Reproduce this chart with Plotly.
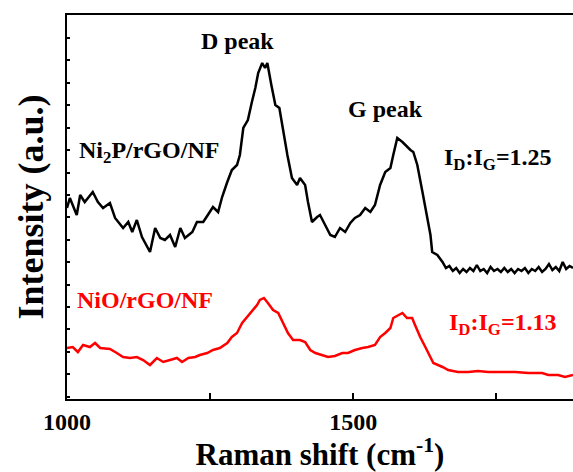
import plotly.graph_objects as go

# Raman shift (cm^-1) and intensity (a.u.)
ni2p_x = [1000, 1005, 1017, 1023, 1031, 1045, 1054, 1063, 1075, 1084, 1098, 1107, 1114, 1122, 1131,
          1145, 1154, 1163, 1171, 1180, 1189, 1198, 1206, 1219, 1227, 1238, 1246, 1255, 1264, 1271,
          1280, 1288, 1297, 1302, 1308, 1316, 1323, 1329, 1334, 1341, 1346, 1350, 1357, 1364, 1371,
          1378, 1385, 1393, 1402, 1407, 1416, 1421, 1428, 1437, 1442, 1451, 1460, 1468, 1477, 1486,
          1495, 1503, 1512, 1521, 1530, 1538, 1547, 1556, 1565, 1570, 1577, 1586, 1591, 1600, 1605,
          1612, 1621, 1629, 1635, 1638, 1647, 1656, 1662, 1668, 1674, 1680, 1686, 1692, 1698, 1704,
          1710, 1716, 1722, 1728, 1734, 1740, 1746, 1752, 1758, 1764, 1770, 1776, 1782, 1788, 1794,
          1800, 1806, 1812, 1818, 1824, 1830, 1836, 1842, 1848, 1854, 1860, 1866, 1872, 1878, 1884]
ni2p_y = [191, 201, 184, 204, 197, 207, 197, 191, 196, 181, 171, 177, 167, 179, 162,
          147, 171, 161, 159, 164, 152, 171, 161, 167, 177, 177, 184, 192, 187, 202,
          217, 229, 234, 244, 271, 279, 297, 311, 326, 336, 331, 336, 314, 294, 291,
          267, 244, 221, 214, 221, 214, 197, 177, 182, 184, 174, 164, 162, 171, 167,
          176, 181, 184, 191, 187, 194, 214, 227, 231, 244, 261, 257, 254, 249, 247,
          234, 207, 184, 164, 147, 144, 137, 131, 133, 128, 131, 126, 130, 127, 131,
          128, 134, 128, 130, 126, 132, 128, 130, 127, 131, 127, 130, 126, 130, 128,
          131, 126, 130, 128, 132, 127, 130, 135, 129, 132, 128, 137, 130, 133, 131]

nio_x = [1000, 1010, 1019, 1028, 1040, 1049, 1058, 1075, 1087, 1098, 1110, 1122, 1133, 1145, 1157,
         1168, 1180, 1192, 1201, 1212, 1224, 1232, 1245, 1255, 1267, 1280, 1288, 1297, 1306, 1315,
         1323, 1332, 1337, 1344, 1351, 1360, 1369, 1378, 1386, 1395, 1407, 1416, 1425, 1434, 1446,
         1456, 1468, 1481, 1491, 1503, 1516, 1526, 1538, 1547, 1556, 1565, 1570, 1579, 1586, 1594,
         1603, 1608, 1617, 1626, 1635, 1640, 1656, 1666, 1683, 1701, 1718, 1736, 1760, 1783, 1806,
         1830, 1841, 1858, 1870, 1884]
nio_y = [51, 52, 47, 54, 52, 56, 51, 50, 46, 42, 41, 42, 39, 34, 41,
         37, 39, 41, 37, 41, 42, 44, 46, 49, 51, 56, 62, 66, 76, 82,
         87, 94, 99, 101, 96, 89, 86, 76, 66, 59, 59, 57, 49, 46, 44,
         42, 43, 46, 46, 49, 51, 52, 54, 62, 66, 71, 81, 84, 86, 81,
         81, 74, 62, 52, 42, 36, 32, 29, 27, 27, 28, 27, 27, 27, 26,
         26, 24, 24, 22, 24]

x_tickvals = [1000, 1250, 1500, 1750]
x_ticktext = ["1000", "", "1500", ""]

FONT = "'Liberation Serif', 'DejaVu Serif', serif"
BLACK = "#000000"
RED = "#ff0000"


def f(size, color=BLACK):
    return dict(family=FONT, size=size, color=color, weight="bold")


fig = go.Figure()
fig.add_trace(go.Scatter(x=ni2p_x, y=ni2p_y, mode="lines",
                         line=dict(color=BLACK, width=2.5), showlegend=False))
fig.add_trace(go.Scatter(x=nio_x, y=nio_y, mode="lines",
                         line=dict(color=RED, width=2.5), showlegend=False))

annotations = [
    dict(x=1297, y=358, text="D peak", xanchor="center", font=f(24)),
    dict(x=1557, y=290, text="G peak", xanchor="center", font=f(24)),
    dict(x=1017, y=247, text="Ni<sub>2</sub>P/rGO/NF", xanchor="left", font=f(24)),
    dict(x=1655, y=240, text="I<sub>D</sub>:I<sub>G</sub>=1.25", xanchor="left", font=f(24)),
    dict(x=1014, y=99, text="NiO/rGO/NF", xanchor="left", font=f(24, RED)),
    dict(x=1664, y=75, text="I<sub>D</sub>:I<sub>G</sub>=1.13", xanchor="left", font=f(24, RED)),
]
for a in annotations:
    a.update(xref="x", yref="y", yanchor="middle", showarrow=False)

fig.update_layout(
    width=573, height=472,
    margin=dict(l=67, r=0, t=15, b=73),
    paper_bgcolor="white", plot_bgcolor="white",
    font=f(24),
    annotations=annotations,
    xaxis=dict(
        range=[1000, 1884], tickvals=x_tickvals, ticktext=x_ticktext,
        ticks="inside", ticklen=6, tickwidth=1.5, tickcolor=BLACK,
        showline=True, linewidth=2, linecolor=BLACK, mirror=True,
        showgrid=False, zeroline=False,
        tickfont=f(24),
        ticklabelstandoff=0,
        title=dict(text="Raman shift (cm<sup>-1</sup>)", standoff=8, font=f(31)),
    ),
    xaxis2=dict(
        overlaying="x", side="top", matches="x", anchor="y",
        tickvals=x_tickvals, showticklabels=False,
        ticks="inside", ticklen=2, tickwidth=1.5, tickcolor="#333333",
        showline=False, showgrid=False, zeroline=False,
    ),
    yaxis=dict(
        range=[0, 384], tick0=2.3, dtick=22.42,
        ticks="inside", ticklen=3, tickwidth=1.5, tickcolor=BLACK,
        showticklabels=False,
        showline=True, linewidth=2, linecolor=BLACK, mirror=False,
        showgrid=False, zeroline=False,
        title=dict(text="Intensity (a.u.)", standoff=10, font=f(36)),
    ),
)

fig.write_html("out.html")
